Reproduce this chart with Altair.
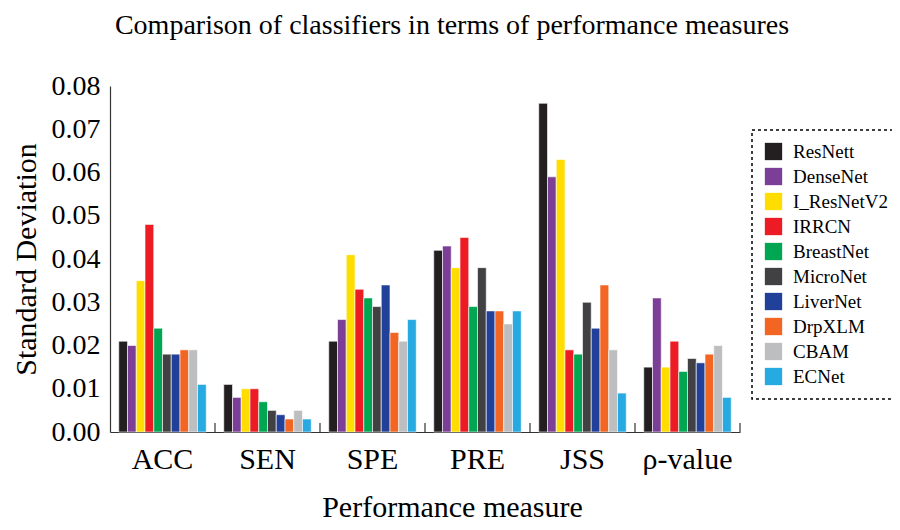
import altair as alt
import pandas as pd

measures = ["ACC", "SEN", "SPE", "PRE", "JSS", "ρ-value"]
models = ["ResNett", "DenseNet", "I_ResNetV2", "IRRCN", "BreastNet",
          "MicroNet", "LiverNet", "DrpXLM", "CBAM", "ECNet"]
colors = ["#231f20", "#7b3f98", "#ffdd00", "#ed1c24", "#00a651",
          "#414042", "#21409a", "#f26522", "#bcbec0", "#27aae1"]

acc = [0.021, 0.020, 0.035, 0.048, 0.024, 0.018, 0.018, 0.019, 0.019, 0.011]
sen = [0.011, 0.008, 0.010, 0.010, 0.007, 0.005, 0.004, 0.003, 0.005, 0.003]
spe = [0.021, 0.026, 0.041, 0.033, 0.031, 0.029, 0.034, 0.023, 0.021, 0.026]
pre = [0.042, 0.043, 0.038, 0.045, 0.029, 0.038, 0.028, 0.028, 0.025, 0.028]
jss = [0.076, 0.059, 0.063, 0.019, 0.018, 0.030, 0.024, 0.034, 0.019, 0.009]
rho = [0.015, 0.031, 0.015, 0.021, 0.014, 0.017, 0.016, 0.018, 0.020, 0.008]

series = [acc, sen, spe, pre, jss, rho]
rows = []
for m, vals in zip(measures, series):
    for mod, v in zip(models, vals):
        rows.append({"measure": m, "model": mod, "value": v})
df = pd.DataFrame(rows)
sep_df = pd.DataFrame({"measure": measures})

FONT = "Liberation Serif"

x_enc = alt.X("measure:N", sort=measures,
              scale=alt.Scale(paddingInner=0, paddingOuter=0),
              axis=alt.Axis(title="Performance measure", labelAngle=0,
                            labelFont=FONT, labelFontSize=30, labelColor="black",
                            labelPadding=12, ticks=False,
                            domainColor="#333333", domainWidth=1.2,
                            titleFont=FONT, titleFontSize=30, titleFontWeight="normal",
                            titleColor="black", titlePadding=18, titleX=342))

bars = alt.Chart(df).mark_bar(stroke="white", strokeWidth=0.6).encode(
    x=x_enc,
    xOffset=alt.XOffset("model:N", sort=models,
                        scale=alt.Scale(paddingOuter=1, paddingInner=0)),
    y=alt.Y("value:Q",
            scale=alt.Scale(domain=[0, 0.08], nice=False),
            axis=alt.Axis(title="Standard Deviation", values=[0, 0.01, 0.02, 0.03, 0.04, 0.05, 0.06, 0.07, 0.08],
                          format=".2f", grid=False, ticks=False,
                          labelFont=FONT, labelFontSize=28, labelColor="black",
                          labelPadding=10, domainColor="#333333", domainWidth=1.2,
                          titleFont=FONT, titleFontSize=30, titleFontWeight="normal",
                          titleColor="black", titlePadding=10)),
    color=alt.Color("model:N", sort=models,
                    scale=alt.Scale(domain=models, range=colors),
                    legend=alt.Legend(title=None, orient="none", legendX=642, legendY=44,
                                      symbolType="square", symbolSize=300,
                                      symbolStrokeWidth=0,
                                      labelFont=FONT, labelFontSize=19, labelColor="black",
                                      labelOffset=10, rowPadding=5, padding=12,
                                      strokeColor="black")),
)

seps = alt.Chart(sep_df).mark_rule(color="#333333", strokeWidth=1.2).encode(
    x=alt.X("measure:N", sort=measures, bandPosition=1),
    y=alt.value(346),
    y2=alt.value(337),
)

chart = alt.layer(bars, seps).properties(
    width=630, height=346,
    title=alt.TitleParams("Comparison of classifiers in terms of performance measures",
                          font=FONT, fontSize=28, fontWeight="normal", color="black",
                          anchor="middle", dx=27, dy=-28),
    autosize=alt.AutoSizeParams(type="none"),
    padding={"left": 102, "top": 78, "right": 152, "bottom": 90},
).configure_view(stroke=None).configure_legend(strokeDash=[3, 3], strokeWidth=1.5)

chart.save("out.html", embed_options={"renderer": "svg", "actions": False})
